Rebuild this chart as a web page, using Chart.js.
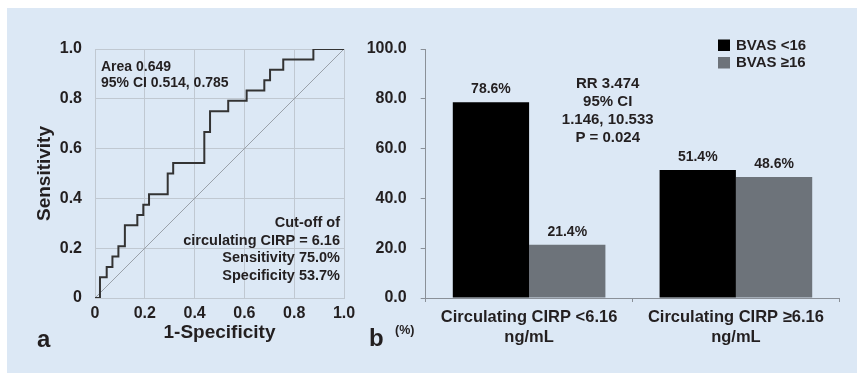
<!DOCTYPE html>
<html>
<head>
<meta charset="utf-8">
<title>Circulating CIRP: ROC curve and BVAS groups</title>
<script src="https://cdn.jsdelivr.net/npm/chart.js@4.4.1/dist/chart.umd.min.js"></script>
<style>
  html, body { margin: 0; padding: 0; background: #fff; }
  #panel { position: absolute; left: 7px; top: 8px; width: 850px; height: 365px; background: #dce8f5; }
  canvas { position: absolute; top: 0; }
  #roc { left: 0; }
  #bars { left: 360px; }
</style>
</head>
<body>
<div id="panel"></div>
<canvas id="roc" width="380" height="373"></canvas>
<canvas id="bars" width="497" height="373"></canvas>
<script>
// panel a - ROC curve corners (1-specificity, sensitivity)
const rocFpr = [0, 0.02, 0.047, 0.07, 0.094, 0.12, 0.17, 0.194, 0.217, 0.292, 0.314, 0.439, 0.462, 0.535, 0.609, 0.68, 0.703, 0.756, 0.877, 1.0];
const rocTpr = [0, 0.083, 0.125, 0.167, 0.208, 0.292, 0.333, 0.375, 0.417, 0.5, 0.542, 0.667, 0.75, 0.792, 0.833, 0.875, 0.917, 0.958, 1.0, 1.0];
const refFpr = [0, 1];
const refTpr = [0, 1];
const rocTicks = [0, 0.2, 0.4, 0.6, 0.8, 1.0];
const rocNoteTop = ['Area 0.649', '95% CI 0.514, 0.785'];
const rocNoteCut = ['Cut-off of', 'circulating CIRP = 6.16', 'Sensitivity 75.0%', 'Specificity 53.7%'];

// panel b - % of patients per BVAS group
const barCategories = [['Circulating CIRP <6.16', 'ng/mL'], ['Circulating CIRP \u22656.16', 'ng/mL']];
const bvasLow = [78.6, 51.4];
const bvasHigh = [21.4, 48.6];
const barTicks = [0, 20, 40, 60, 80, 100];
const rrNote = ['RR 3.474', '95% CI', '1.146, 10.533', 'P = 0.024'];

const FONT = "'Liberation Sans', Arial, sans-serif";
const TEXT = '#231f20';
const GRID = '#c0c8d1';
const AXIS = '#8a9098';

Chart.defaults.font.family = FONT;
Chart.defaults.color = TEXT;

const rocNotes = {
  id: 'rocNotes',
  afterDraw(chart) {
    const { ctx, chartArea: a } = chart;
    ctx.save();
    ctx.fillStyle = TEXT;
    ctx.textBaseline = 'middle';
    ctx.font = 'bold 14px ' + FONT;
    ctx.textAlign = 'left';
    rocNoteTop.forEach((t, i) => ctx.fillText(t, a.left + 6, a.top + 18 + i * 16));
    ctx.font = 'bold 14.5px ' + FONT;
    ctx.textAlign = 'right';
    rocNoteCut.forEach((t, i) => ctx.fillText(t, a.right - 4, a.bottom - 75 + i * 17.5));
    ctx.font = 'bold 24px ' + FONT;
    ctx.textAlign = 'left';
    ctx.fillText('a', 37, 340);
    ctx.restore();
  }
};

const barNotes = {
  id: 'barNotes',
  afterDraw(chart) {
    const { ctx } = chart;
    ctx.save();
    ctx.fillStyle = TEXT;
    ctx.textBaseline = 'middle';
    // value labels
    ctx.font = 'bold 14px ' + FONT;
    ctx.textAlign = 'center';
    chart.data.datasets.forEach((ds, di) => {
      chart.getDatasetMeta(di).data.forEach((bar, i) => {
        ctx.fillText(ds.data[i].toFixed(1) + '%', bar.x, bar.y - 13);
      });
    });
    // RR note
    ctx.font = 'bold 15px ' + FONT;
    rrNote.forEach((t, i) => ctx.fillText(t, 247.7, 84 + i * 18));
    // legend
    chart.data.datasets.forEach((ds, i) => {
      ctx.fillStyle = ds.backgroundColor;
      ctx.fillRect(358, 39.5 + i * 17.5, 12, 11.5);
      ctx.fillStyle = TEXT;
      ctx.textAlign = 'left';
      ctx.fillText(ds.label, 376, 45.5 + i * 17.5);
    });
    // panel letter and unit
    ctx.font = 'bold 24px ' + FONT;
    ctx.fillText('b', 9, 339);
    ctx.font = 'bold 12.5px ' + FONT;
    ctx.fillText('(%)', 35, 331);
    ctx.restore();
  }
};

new Chart(document.getElementById('roc'), {
  type: 'scatter',
  data: {
    datasets: [
      {
        data: rocFpr.map((x, i) => ({ x, y: rocTpr[i] })),
        showLine: true,
        stepped: 'before',
        borderColor: '#333333',
        borderWidth: 2,
        pointRadius: 0
      },
      {
        data: refFpr.map((x, i) => ({ x, y: refTpr[i] })),
        showLine: true,
        borderColor: '#9aa1aa',
        borderWidth: 1,
        pointRadius: 0
      }
    ]
  },
  options: {
    responsive: false,
    animation: false,
    layout: { padding: { left: 0, top: 49, right: 36, bottom: 0 } },
    plugins: { legend: { display: false }, tooltip: { enabled: false } },
    scales: {
      x: {
        type: 'linear', min: 0, max: 1,
        afterBuildTicks: s => { s.ticks = rocTicks.map(v => ({ value: v })); },
        afterFit: s => { s.height = 75; },
        grid: { color: GRID, drawTicks: false },
        border: { color: GRID },
        ticks: {
          padding: 6.4, maxRotation: 0,
          font: { size: 16, weight: 'bold' },
          callback: v => v === 0 ? '0' : v.toFixed(1)
        },
        title: { display: true, text: '1-Specificity', font: { size: 19, weight: 'bold' }, padding: { top: 0, bottom: 28.6 } }
      },
      y: {
        type: 'linear', min: 0, max: 1,
        afterBuildTicks: s => { s.ticks = rocTicks.map(v => ({ value: v })); },
        afterFit: s => { s.width = 95; },
        grid: { color: GRID, drawTicks: false },
        border: { color: GRID },
        ticks: {
          padding: 13,
          font: { size: 16, weight: 'bold' },
          callback: v => v === 0 ? '0' : v.toFixed(1)
        },
        title: { display: true, text: 'Sensitivity', font: { size: 19, weight: 'bold' }, padding: { top: 33.6, bottom: 0 } }
      }
    }
  },
  plugins: [rocNotes]
});

new Chart(document.getElementById('bars'), {
  type: 'bar',
  data: {
    labels: barCategories,
    datasets: [
      { label: 'BVAS <16', data: bvasLow, backgroundColor: '#000000', borderWidth: 0 },
      { label: 'BVAS \u226516', data: bvasHigh, backgroundColor: '#6d737a', borderWidth: 0 }
    ]
  },
  options: {
    responsive: false,
    animation: false,
    layout: { padding: { left: 0, top: 49, right: 17.7, bottom: 0 } },
    datasets: { bar: { categoryPercentage: 0.738, barPercentage: 1 } },
    plugins: { legend: { display: false }, tooltip: { enabled: false } },
    scales: {
      x: {
        afterFit: s => { s.height = 75; },
        grid: { drawOnChartArea: false, drawTicks: true, tickLength: 4, color: AXIS, offset: true },
        border: { color: AXIS },
        ticks: { padding: 5, maxRotation: 0, font: { size: 16.5, weight: 'bold', lineHeight: '20px' } }
      },
      y: {
        min: 0, max: 100,
        afterBuildTicks: s => { s.ticks = barTicks.map(v => ({ value: v })); },
        afterFit: s => { s.width = 65.7; },
        grid: { drawOnChartArea: false, drawTicks: true, tickLength: 5, color: AXIS },
        border: { color: AXIS },
        ticks: { padding: 14, font: { size: 16, weight: 'bold' }, callback: v => v.toFixed(1) }
      }
    }
  },
  plugins: [barNotes]
});
</script>
</body>
</html>
